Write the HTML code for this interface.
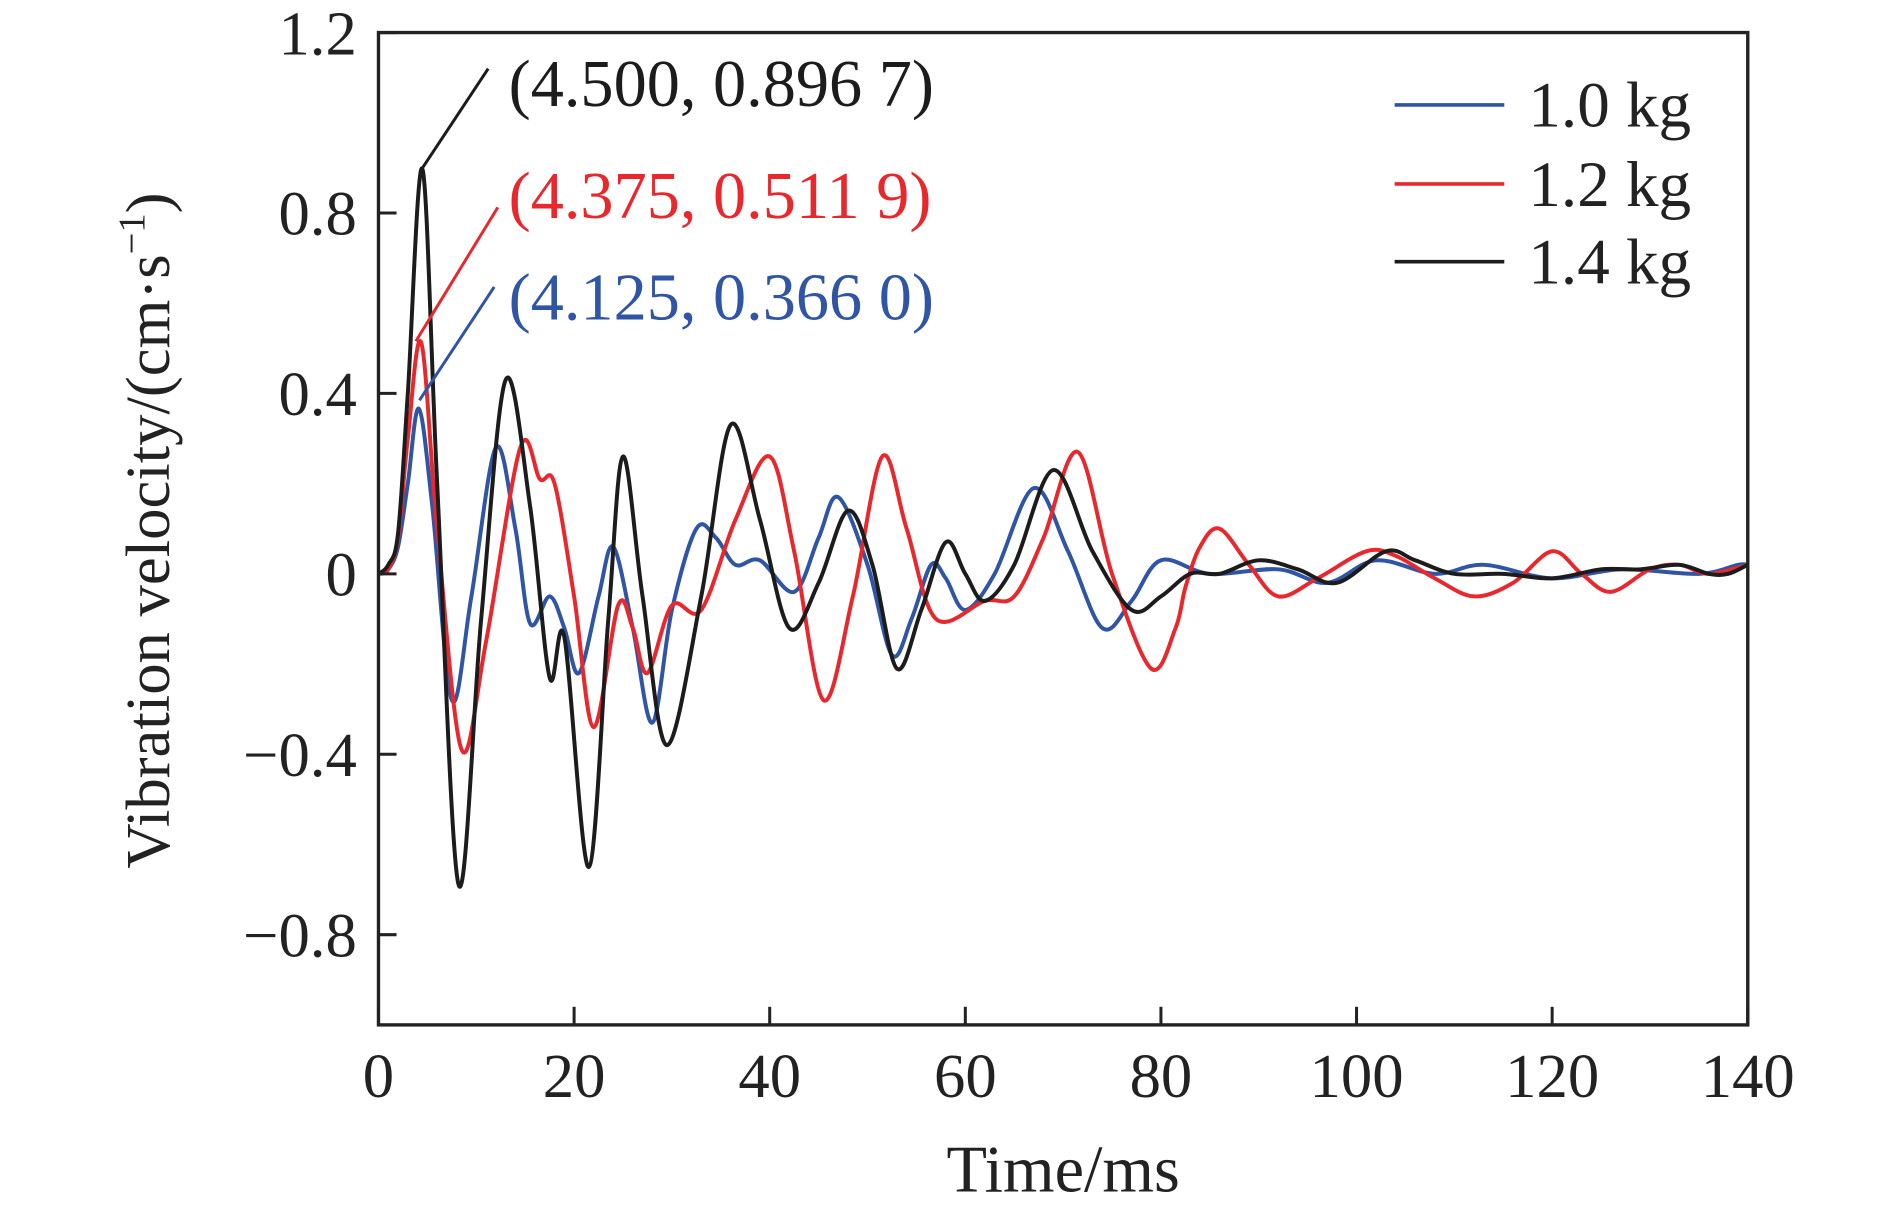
<!DOCTYPE html>
<html><head><meta charset="utf-8"><style>
html,body{margin:0;padding:0;background:#fff;}
svg{display:block;font-family:"Liberation Serif",serif;}
</style></head><body>
<svg id="chart" width="1890" height="1213" viewBox="0 0 1568 1006" preserveAspectRatio="none">
<g id="plot"></g>
</svg>
<script>
// Data arrays (time in ms, velocity in cm/s)
const xTicks = [0, 20, 40, 60, 80, 100, 120, 140];
const yTicks = [-0.8, -0.4, 0, 0.4, 0.8, 1.2];
const yTickLabels = ["\u22120.8", "\u22120.4", "0", "0.4", "0.8", "1.2"];
const seriesNames = ["1.0 kg", "1.2 kg", "1.4 kg"];
const blueT = [0,1,2,3,4.125,5.5,7.5,9.5,12,14,15.5,17.5,19,20.5,22.5,24,26,28,30,32.5,34.5,36.5,39,42.5,45,47,50,52.5,54.5,56.5,58,60,63,67,70.5,74,77,80,85,92,97,102,108,113,120,127,135,139,140];
const blueV = [0,0.01,0.06,0.2,0.366,0.15,-0.28,-0.05,0.28,0.1,-0.11,-0.05,-0.12,-0.22,-0.05,0.06,-0.12,-0.33,-0.08,0.10,0.08,0.02,0.03,-0.04,0.08,0.17,0.02,-0.18,-0.1,0.02,-0.01,-0.08,0.0,0.19,0.05,-0.12,-0.06,0.03,0.0,0.01,-0.02,0.03,0.0,0.02,-0.01,0.01,0.0,0.02,0.02];
const redT = [0,1,2,3,4.375,6,8.5,11,14.5,16.5,18,20,22,24.5,26,27.5,30,33,36.5,40,42.5,45.5,48.5,51.5,54,57,62,65,68,71.5,75,79,81.5,82.5,84,86,89,92,96,101,104,108,112,116,120,123,126,130,133,136,140];
const redV = [0,0.01,0.08,0.3,0.512,0.1,-0.39,-0.15,0.28,0.21,0.20,-0.05,-0.34,-0.07,-0.12,-0.22,-0.07,-0.08,0.12,0.26,0.05,-0.28,-0.05,0.26,0.1,-0.10,-0.06,-0.05,0.08,0.27,0.0,-0.21,-0.12,-0.03,0.06,0.10,0.02,-0.05,-0.01,0.05,0.04,-0.01,-0.05,-0.02,0.05,0.0,-0.04,0.01,0.02,0.0,0.02];
const blackT = [0,1,2,3,4.5,6,8.2,10.5,13,15.5,17.5,19,21.5,23.5,25,27,29.5,33,36,39,42,45,48,50.5,53,55.5,58,60,62,65,69,73,77,80,83,86,90,94,98,103,106,110,115,120,125,129,133,136,138,140];
const blackV = [0,0.02,0.09,0.4,0.897,0.2,-0.69,-0.1,0.43,0.15,-0.23,-0.14,-0.65,-0.1,0.26,-0.05,-0.38,-0.05,0.33,0.12,-0.12,-0.02,0.14,0.02,-0.21,-0.08,0.07,0.0,-0.06,0.02,0.23,0.05,-0.08,-0.05,0.0,0.0,0.03,0.01,-0.02,0.05,0.03,0.0,0.0,-0.01,0.01,0.01,0.02,0.0,0.0,0.02];

const NS = "http://www.w3.org/2000/svg";
const L = 314, R = 1450, T = 27, B = 850;
const xMin = 0, xMax = 140, yMin = -1.0, yMax = 1.2;
function xs(v){ return L + (v - xMin) / (xMax - xMin) * (R - L); }
function ys(v){ return B - (v - yMin) / (yMax - yMin) * (B - T); }
const g = document.getElementById('plot');
function mk(tag, attrs, parent){
  const e = document.createElementNS(NS, tag);
  for (const k in attrs) e.setAttribute(k, attrs[k]);
  (parent || g).appendChild(e);
  return e;
}
function smoothPath(tx, vy){
  const p = tx.map((t, i) => [xs(t), ys(vy[i])]);
  let d = "M" + p[0][0].toFixed(2) + "," + p[0][1].toFixed(2);
  for (let i = 0; i < p.length - 1; i++){
    const p0 = p[Math.max(0, i-1)], p1 = p[i], p2 = p[i+1], p3 = p[Math.min(p.length-1, i+2)];
    const c1 = [p1[0] + (p2[0]-p0[0])/6, p1[1] + (p2[1]-p0[1])/6];
    const c2 = [p2[0] - (p3[0]-p1[0])/6, p2[1] - (p3[1]-p1[1])/6];
    d += " C" + c1[0].toFixed(2)+","+c1[1].toFixed(2)+" "+c2[0].toFixed(2)+","+c2[1].toFixed(2)+" "+p2[0].toFixed(2)+","+p2[1].toFixed(2);
  }
  return d;
}
const colors = ["#2f55a4", "#e8282d", "#1c1c1c"];

const sBlue = mk('path', {d: smoothPath(blueT, blueV), fill:'none', stroke:colors[0], 'stroke-width':3.3});


const sRed = mk('path', {d: smoothPath(redT, redV), fill:'none', stroke:colors[1], 'stroke-width':3.3});


const sBlack = mk('path', {d: smoothPath(blackT, blackV), fill:'none', stroke:colors[2], 'stroke-width':3.3});



const frame = mk('rect', {x:L, y:T, width:R-L, height:B-T, fill:'none', stroke:'#222', 'stroke-width':2.8});



xTicks.forEach(v => {
  const tk = mk('line', {x1:xs(v), x2:xs(v), y1:B, y2:B-15, stroke:'#222', 'stroke-width':2.5});
  
  
  const tl = mk('text', {x:xs(v), y:910, 'text-anchor':'middle', 'font-size':52, fill:'#222'});
  tl.textContent = String(v);
  
  
});
yTicks.forEach((v, i) => {
  const tk = mk('line', {x1:L, x2:L+15, y1:ys(v), y2:ys(v), stroke:'#222', 'stroke-width':2.5});
  
  
  const tl = mk('text', {x:296, y:ys(v)+18, 'text-anchor':'end', 'font-size':52, fill:'#222'});
  tl.textContent = yTickLabels[i];
  
  
});
</script>
<script>
const svg = document.getElementById('chart');
function add(markup){ svg.insertAdjacentHTML('beforeend', markup); }
add('<text x="882" y="988" text-anchor="middle" font-size="55" fill="#222">Time/ms</text>');
add('<text transform="translate(140,440) rotate(-90)" text-anchor="middle" font-size="52" fill="#222">Vibration velocity/(cm·s<tspan dy="-20" font-size="32">−1</tspan><tspan dy="20">)</tspan></text>');
add('<g>'+
 '<line x1="350" y1="140" x2="405" y2="57" stroke="#1c1c1c" stroke-width="2.5"/>'+
 '<line x1="345" y1="283" x2="413" y2="172" stroke="#e8282d" stroke-width="2.5"/>'+
 '<line x1="348" y1="332" x2="410" y2="238" stroke="#2f55a4" stroke-width="2.5"/>'+
 '<text x="422" y="88" font-size="55" fill="#1c1c1c">(4.500, 0.896 7)</text>'+
 '<text x="422" y="181" font-size="55" fill="#e8282d">(4.375, 0.511 9)</text>'+
 '<text x="422" y="265" font-size="55" fill="#2f55a4">(4.125, 0.366 0)</text></g>');
add('<g>'+
 '<g><line x1="1157" y1="87" x2="1248" y2="87" stroke="#2f55a4" stroke-width="3"/><text x="1268" y="105" font-size="54" fill="#222">1.0 kg</text></g>'+
 '<g><line x1="1157" y1="152.5" x2="1248" y2="152.5" stroke="#e8282d" stroke-width="3"/><text x="1268" y="171" font-size="54" fill="#222">1.2 kg</text></g>'+
 '<g><line x1="1157" y1="217" x2="1248" y2="217" stroke="#1c1c1c" stroke-width="3"/><text x="1268" y="235" font-size="54" fill="#222">1.4 kg</text></g></g>');
</script>
</body></html>
